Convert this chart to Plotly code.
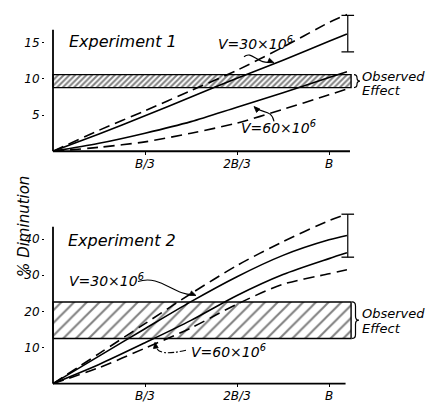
import math
import plotly.graph_objects as go

# The page body has an 8px margin, so the figure is drawn 8px in from the
# window's top-left; all pixel positions below are window coordinates.
OFF = 8
W, H = 427, 395

# ---------------- data ----------------
x_frac = [0, 1/6, 1/3, 1/2, 2/3, 5/6, 1.0, 1.065]          # fraction of B
x_tickvals = [1/3, 2/3, 1.0]
x_ticktext = ["B/3", "2B/3", "B"]

# Experiment 1
e1_v30_solid = [0, 2.4, 4.9, 7.5, 10.1, 12.6, 15.2, 16.2]
e1_v30_dash = [0, 2.9, 5.6, 8.4, 11.2, 14.4, 17.8, 18.9]
e1_v60_solid = [0, 1.1, 2.5, 4.1, 6.1, 8.1, 10.2, 11.0]
e1_v60_dash = [0, 0.55, 1.3, 2.5, 3.9, 5.8, 7.8, 8.6]
e1_band = [8.8, 10.6]
e1_err = [13.75, 18.8]
e1_yticks = [5, 10, 15]

# Experiment 2
e2_v30_solid = [0, 7.6, 15.2, 22.7, 29.6, 35.5, 39.8, 41.0]
e2_v30_dash = [0, 8.3, 16.6, 24.9, 32.7, 39.3, 45.1, 46.9]
e2_v60_solid = [0, 5.3, 11.3, 17.5, 24.4, 30.2, 34.6, 36.2]
e2_v60_dash = [0, 4.4, 9.8, 15.4, 22.0, 27.5, 30.4, 31.5]
e2_band = [12.5, 22.6]
e2_err = [35.0, 46.9]
e2_yticks = [10, 20, 30, 40]

band_x_end = 1.08
err_x = 1.068

# ---------------- helpers ----------------
def px(x):
    return (x - OFF) / W

def py(y):
    return 1 - (y - OFF) / H

FONT = "DejaVu Sans"
black = "black"

X0_PX, X_SCALE = 53, 276.0
x_dom_px = (45, 365)
x_range = [(x_dom_px[0] - X0_PX) / X_SCALE, (x_dom_px[1] - X0_PX) / X_SCALE]

T0_PX, T_SCALE = 152, 7.27
t_dom_px = (9, 156)
B0_PX, B_SCALE = 385.5, 3.63
b_dom_px = (205, 389)

def t_ypx(v):
    return T0_PX - T_SCALE * v

def b_ypx(v):
    return B0_PX - B_SCALE * v

fig = go.Figure()

def add_panel(xa, ya, band, curves, err, hatch_size, hatch_sol):
    fig.add_trace(go.Scatter(
        x=[0, band_x_end, band_x_end, 0, 0],
        y=[band[0], band[0], band[1], band[1], band[0]],
        mode="lines", fill="toself", fillcolor="rgba(255,255,255,0)",
        fillpattern=dict(shape="/", fgcolor=black, bgcolor="white",
                         size=hatch_size, solidity=hatch_sol),
        line=dict(color=black, width=1.4),
        xaxis=xa, yaxis=ya, showlegend=False, hoverinfo="skip"))
    for ys, dash in curves:
        fig.add_trace(go.Scatter(
            x=x_frac, y=ys, mode="lines",
            line=dict(color=black, width=1.6, dash=dash, shape="spline", smoothing=0.8),
            xaxis=xa, yaxis=ya, showlegend=False))
    fig.add_trace(go.Scatter(
        x=[err_x, err_x], y=err, mode="lines+markers",
        line=dict(color=black, width=1.2),
        marker=dict(symbol="line-ew-open", size=9, line=dict(color=black, width=1.3)),
        xaxis=xa, yaxis=ya, showlegend=False))

DASH = "11px,6px"
add_panel("x", "y", e1_band,
          [(e1_v30_dash, DASH), (e1_v30_solid, "solid"),
           (e1_v60_solid, "solid"), (e1_v60_dash, DASH)],
          e1_err, 4, 0.5)
add_panel("x2", "y2", e2_band,
          [(e2_v30_dash, DASH), (e2_v30_solid, "solid"),
           (e2_v60_solid, "solid"), (e2_v60_dash, DASH)],
          e2_err, 9, 0.22)

shapes = []
for xr, yr, xend, yend in [("x", "y", 1.076, 16.8), ("x2", "y2", 1.06, 43.4)]:
    shapes.append(dict(type="line", xref=xr, yref=yr, x0=0, y0=0, x1=xend, y1=0,
                       line=dict(color=black, width=1.8)))
    shapes.append(dict(type="line", xref=xr, yref=yr, x0=0, y0=0, x1=0, y1=yend,
                       line=dict(color=black, width=1.8)))

def brace_path(x0, ytop, ybot, w):
    mid = (ytop + ybot) / 2
    r = min(4, (ybot - ytop) / 4)
    xm = x0 + w / 2
    pts = [
        ("M", [(x0, ytop)]),
        ("Q", [(xm, ytop), (xm, ytop + r)]),
        ("L", [(xm, mid - r)]),
        ("Q", [(xm, mid), (x0 + w, mid)]),
        ("Q", [(xm, mid), (xm, mid + r)]),
        ("L", [(xm, ybot - r)]),
        ("Q", [(xm, ybot), (x0, ybot)]),
    ]
    s = ""
    for cmd, ps in pts:
        s += cmd + " " + " ".join(f"{px(a):.5f},{py(b):.5f}" for a, b in ps) + " "
    return s

shapes.append(dict(type="path", xref="paper", yref="paper",
                   path=brace_path(354, t_ypx(e1_band[1]), t_ypx(e1_band[0]), 6),
                   line=dict(color=black, width=1.2)))
shapes.append(dict(type="path", xref="paper", yref="paper",
                   path=brace_path(352, b_ypx(e2_band[1]), b_ypx(e2_band[0]), 7),
                   line=dict(color=black, width=1.2)))

def curve(pts, dash="solid"):
    (a, b), (c, d), (e, f), (g, h) = pts
    return dict(type="path", xref="paper", yref="paper",
                path=f"M {px(a)},{py(b)} C {px(c)},{py(d)} {px(e)},{py(f)} {px(g)},{py(h)}",
                line=dict(color=black, width=1.1, dash=dash))

def arrowhead(tip, frm, length=6, half=2.4):
    tx, ty = tip
    dx, dy = tx - frm[0], ty - frm[1]
    n = math.hypot(dx, dy)
    ux, uy = dx / n, dy / n
    bx, by = tx - ux * length, ty - uy * length
    p1 = (bx - uy * half, by + ux * half)
    p2 = (bx + uy * half, by - ux * half)
    path = (f"M {px(tx)},{py(ty)} L {px(p1[0])},{py(p1[1])} "
            f"L {px(p2[0])},{py(p2[1])} Z")
    return dict(type="path", xref="paper", yref="paper", path=path,
                fillcolor=black, line=dict(color=black, width=0.8))

shapes.append(curve([(244, 57), (252, 50), (258, 66), (272, 62)]))
shapes.append(arrowhead((274, 63), (267, 60)))
shapes.append(curve([(274, 122), (272, 110), (262, 114), (255, 108)]))
shapes.append(arrowhead((254, 107), (259, 112)))
shapes.append(curve([(138, 283), (160, 275), (175, 298), (194, 296)]))
shapes.append(arrowhead((196, 297), (189, 294)))
shapes.append(curve([(186, 352), (168, 356), (158, 356), (155, 347)], dash="6px,2px,2px,2px"))
shapes.append(arrowhead((155, 344), (156, 351)))

annotations = []

def text(x, y, s, size=13, anchor="left"):
    annotations.append(dict(x=px(x), y=py(y), xref="paper", yref="paper", text=s,
                            showarrow=False, xanchor=anchor, yanchor="middle",
                            font=dict(family=FONT, size=size, color=black, style="italic")))

text(67, 42, "Experiment 1", 16)
text(66, 242, "Experiment 2", 16)
text(216, 43, "V=30×10<sup>6</sup>", 14)
text(239, 128, "V=60×10<sup>6</sup>", 14)
text(67, 281, "V=30×10<sup>6</sup>", 14)
text(189, 353, "V=60×10<sup>6</sup>", 14)
text(360, 77, "Observed", 13)
text(360, 91, "Effect", 13)
text(360, 315, "Observed", 13)
text(360, 330, "Effect", 13)

annotations.append(dict(x=px(13), y=py(228), xref="paper", yref="paper",
                        text="% Diminution", showarrow=False, textangle=-90,
                        font=dict(family=FONT, size=15, color=black, style="italic")))

axis_common = dict(showgrid=False, zeroline=False, showline=False,
                   tickfont=dict(family=FONT, size=12, color=black, style="italic"),
                   tickcolor=black)

fig.update_layout(
    width=W, height=H, margin=dict(l=0, r=0, t=0, b=0),
    paper_bgcolor="white", plot_bgcolor="white", showlegend=False,
    xaxis=dict(domain=[px(x_dom_px[0]), px(x_dom_px[1])], range=x_range, anchor="y",
               tickvals=x_tickvals, ticktext=x_ticktext, ticks="inside", ticklen=3,
               **axis_common),
    yaxis=dict(domain=[py(t_dom_px[1]), py(t_dom_px[0])],
               range=[(T0_PX - t_dom_px[1]) / T_SCALE, (T0_PX - t_dom_px[0]) / T_SCALE],
               anchor="x", tickvals=e1_yticks, ticks="outside", ticklen=2, **axis_common),
    xaxis2=dict(domain=[px(x_dom_px[0]), px(x_dom_px[1])], range=x_range, anchor="y2",
                tickvals=x_tickvals, ticktext=x_ticktext, ticks="inside", ticklen=3,
                **axis_common),
    yaxis2=dict(domain=[py(b_dom_px[1]), py(b_dom_px[0])],
                range=[(B0_PX - b_dom_px[1]) / B_SCALE, (B0_PX - b_dom_px[0]) / B_SCALE],
                anchor="x2", tickvals=e2_yticks, ticks="outside", ticklen=2, **axis_common),
    shapes=shapes, annotations=annotations,
)

fig.write_html("out.html")
